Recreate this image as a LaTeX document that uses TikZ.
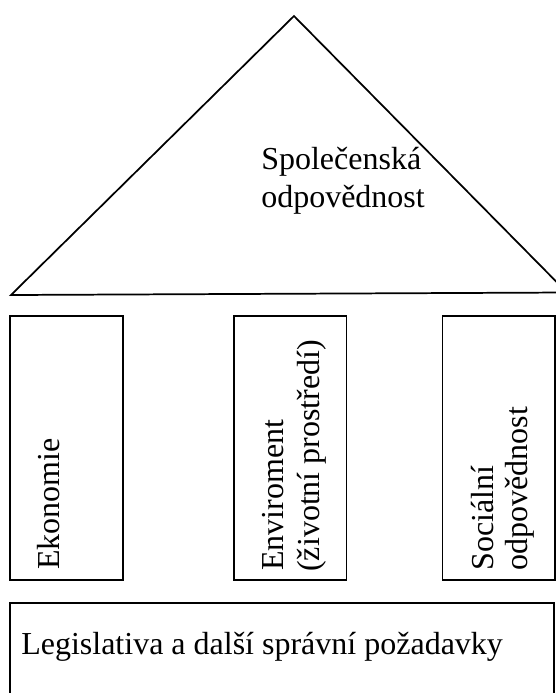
\documentclass[tikz,border=0pt]{standalone}
\usepackage{fontspec}
\setmainfont{Liberation Serif}
\begin{document}
\begin{tikzpicture}[x=0.75pt,y=-0.75pt,
  line/.style={line width=1.3pt,line join=miter},
  lbl/.style={inner sep=0pt,anchor=base west,font=\fontsize{24pt}{27.75pt}\selectfont},
  vlbl/.style={lbl,rotate=90}]
\useasboundingbox (0,0) rectangle (556,693);
\clip (0,0) rectangle (556,693);
% roof
\coordinate (apex) at (294,16);
\coordinate (bl) at (11,295);
\coordinate (br) at (567,292.5);
\draw[line] (bl) -- (apex) -- (br) -- cycle;
\node[lbl] (roof1) at (261,169) {Společenská};
\node[lbl] (roof2) at (261,207) {odpovědnost};
% pillars
\draw[line] (10,316) rectangle (123,580);
\draw[line] (234,316) rectangle (346.5,580);
\draw[line] (442.5,316) rectangle (555,580);
\node[vlbl] (eko) at (59.5,570) {Ekonomie};
\node[vlbl] (env1) at (283.5,571) {Enviroment};
\node[vlbl] (env2) at (319,572) {(životní prostředí)};
\node[vlbl] (soc1) at (493.5,570.5) {Sociální};
\node[vlbl] (soc2) at (527.5,570.5) {odpovědnost};
% base
\draw[line] (10,603) rectangle (554,710);
\node[lbl] (leg) at (21,654) {Legislativa a další správní požadavky};
\end{tikzpicture}
\end{document}
